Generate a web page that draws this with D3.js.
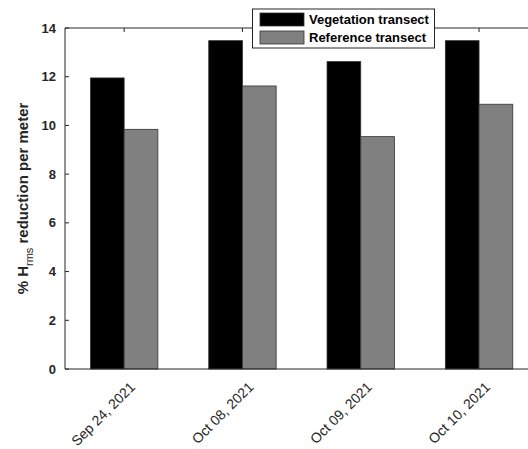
<!DOCTYPE html>
<html>
<head>
<meta charset="utf-8">
<script src="https://cdn.jsdelivr.net/npm/d3@7"></script>
<style>
  body { margin: 0; background: #fff; }
  text { font-family: "Liberation Sans", Arial, sans-serif; font-weight: bold; }
</style>
</head>
<body>
<div id="chart"></div>
<script>
const dates = ["Sep 24, 2021", "Oct 08, 2021", "Oct 09, 2021", "Oct 10, 2021"]
const vegetation = [11.95, 13.48, 12.62, 13.48]
const reference = [9.84, 11.62, 9.54, 10.87]
const seriesNames = ["Vegetation transect", "Reference transect"]
const seriesColors = ["#000000", "#808080"]
const yTicks = [0, 2, 4, 6, 8, 10, 12, 14]

const W = 528, H = 449
const MARGIN = { TOP: 28, LEFT: 65 }
const PLOT_H = 369 - MARGIN.TOP
const STEP = 118.3 // px per category

const svg = d3.select("#chart").append("svg")
  .attr("width", W).attr("height", H)

const g = svg.append("g")
  .attr("transform", `translate(${MARGIN.LEFT}, ${MARGIN.TOP})`)

// x is numeric like matlab: categories at 1..4, limits 0.5..4.5
const x = d3.scaleLinear().domain([0.5, 4.5]).range([0, STEP * 4])
const y = d3.scaleLinear().domain([0, 14]).range([PLOT_H, 0])
const barW = STEP * 0.285

const rows = dates.map((d, i) => ({ date: d, idx: i + 1, values: [vegetation[i], reference[i]] }))

const groups = g.selectAll(".grp").data(rows).enter().append("g")
groups.selectAll("rect")
  .data(d => d.values.map((v, k) => ({ v, k, idx: d.idx })))
  .enter().append("rect")
  .attr("x", d => x(d.idx) + (d.k - 1) * barW)
  .attr("y", d => y(d.v))
  .attr("width", barW)
  .attr("height", d => y(0) - y(d.v))
  .attr("fill", d => seriesColors[d.k])
  .attr("stroke", "#333")
  .attr("stroke-width", 0.8)

// axes box lines (top and bottom run past right edge)
const xr = x(4.5)
g.append("path").attr("d", `M0,0H${xr}M0,${PLOT_H}H${xr}M0,0V${PLOT_H}`)
  .attr("stroke", "#262626").attr("fill", "none").attr("stroke-width", 1)

// y ticks (inward)
const yAxis = g.append("g")
yAxis.selectAll("line").data(yTicks).enter().append("line")
  .attr("x1", 0).attr("x2", 4)
  .attr("y1", d => y(d)).attr("y2", d => y(d))
  .attr("stroke", "#262626")
yAxis.selectAll("text").data(yTicks).enter().append("text")
  .attr("x", -9).attr("y", d => y(d)).attr("dy", "0.35em")
  .attr("text-anchor", "end").attr("font-size", 13).attr("fill", "#262626")
  .text(d => d)

// x ticks (inward, top)
const xAxis = g.append("g")
xAxis.selectAll("line.top").data(rows).enter().append("line")
  .attr("x1", d => x(d.idx)).attr("x2", d => x(d.idx))
  .attr("y1", 0).attr("y2", 4).attr("stroke", "#262626")
xAxis.selectAll("text").data(rows).enter().append("text")
  .attr("transform", d => `translate(${x(d.idx) + 5}, ${PLOT_H + 12}) rotate(-45)`)
  .attr("text-anchor", "end").attr("dy", "0.7em")
  .attr("font-size", 14).style("font-weight", "normal").attr("fill", "#262626")
  .text(d => d.date)

// y label
const yl = svg.append("text")
  .attr("transform", `translate(28, ${MARGIN.TOP + PLOT_H / 2}) rotate(-90)`)
  .attr("text-anchor", "middle").attr("font-size", 15).attr("fill", "#262626")
yl.append("tspan").text("% H")
yl.append("tspan").attr("font-size", 11).style("font-weight", "normal").attr("dy", 5).text("rms")
yl.append("tspan").attr("dy", -5).text(" reduction per meter")

// legend
const lg = svg.append("g").attr("transform", "translate(252.5, 9)")
lg.append("rect").attr("width", 182).attr("height", 39)
  .attr("fill", "#fff").attr("stroke", "#262626").attr("stroke-width", 1)
seriesNames.forEach((name, k) => {
  lg.append("rect").attr("x", 7.5).attr("y", 4 + k * 18).attr("width", 44).attr("height", 13)
    .attr("fill", seriesColors[k]).attr("stroke", "#333").attr("stroke-width", 0.8)
  lg.append("text").attr("x", 56.5).attr("y", 10.5 + k * 18).attr("dy", "0.35em")
    .attr("font-size", 13).attr("fill", "#000").text(name)
})
</script>
</body>
</html>
